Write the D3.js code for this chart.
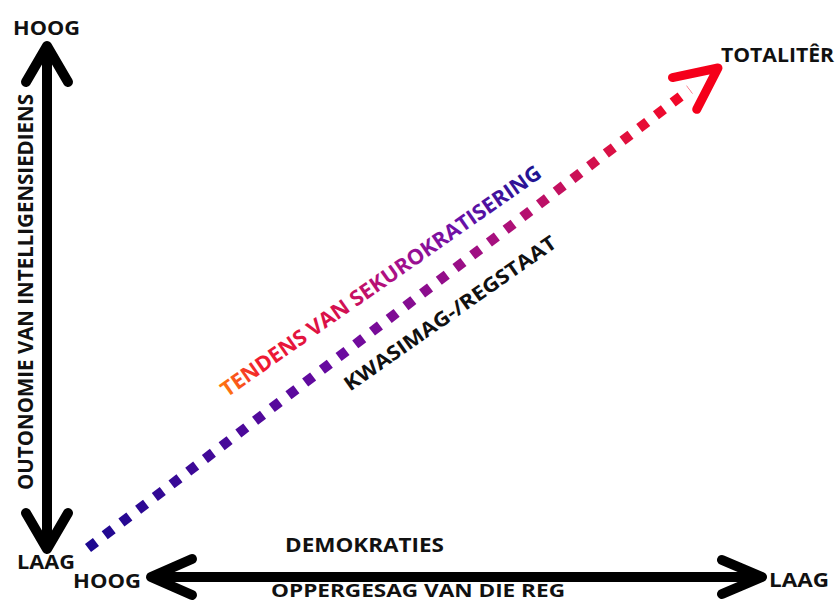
<!DOCTYPE html>
<html>
<head>
<meta charset="utf-8">
<script src="https://cdn.jsdelivr.net/npm/d3@7"></script>
<style>
  body { margin: 0; background: #fff; }
  text { font-family: "Open Sans", "DejaVu Sans", sans-serif; font-weight: bold; }
</style>
</head>
<body>
<div id="chart"></div>
<script>
// data: concept diagram, trend from (0,0) to (1,1) in normalised units
var yEnds = ["LAAG", "HOOG"];
var xEnds = ["HOOG", "LAAG"];
var yTitle = "OUTONOMIE VAN INTELLIGENSIEDIENS";
var xTitle = "OPPERGESAG VAN DIE REG";
var lowerLabel = "DEMOKRATIES";
var endLabel = "TOTALITÊR";
var trendLabels = ["TENDENS VAN SEKUROKRATISERING", "KWASIMAG-/REGSTAAT"];
var trendX = [0, 0.955];
var trendY = [0, 0.955];
var tipPoint = [1, 1];

var svgWidth = 838;
var svgHeight = 602;

var svg = d3.select("#chart")
  .append("svg")
  .attr("width", svgWidth)
  .attr("height", svgHeight);

var xScale = d3.scaleLinear().domain([0, 1]).range([88, 718]);
var yScale = d3.scaleLinear().domain([0, 1]).range([548, 68]);

var defs = svg.append("defs");

// gradient along trend line
var lineGrad = defs.append("linearGradient")
  .attr("id", "lineGrad")
  .attr("gradientUnits", "userSpaceOnUse")
  .attr("x1", xScale(0)).attr("y1", yScale(0))
  .attr("x2", xScale(1)).attr("y2", yScale(1));
[["0%", "#1c0890"], ["40%", "#6a0aa0"], ["65%", "#a8107e"], ["85%", "#e0103e"], ["100%", "#ff0018"]]
  .forEach(function(s) { lineGrad.append("stop").attr("offset", s[0]).attr("stop-color", s[1]); });

// gradient for the tendens text (in the rotated text's own space)
var textGrad = defs.append("linearGradient")
  .attr("id", "textGrad")
  .attr("gradientUnits", "userSpaceOnUse")
  .attr("x1", -193).attr("y1", 0)
  .attr("x2", 193).attr("y2", 0);
[["0%", "#ff7a10"], ["12%", "#f01a30"], ["35%", "#d8104a"], ["55%", "#a8108a"], ["75%", "#6a10a8"], ["100%", "#1c1490"]]
  .forEach(function(s) { textGrad.append("stop").attr("offset", s[0]).attr("stop-color", s[1]); });

var line = d3.line().x(d => xScale(d[0])).y(d => yScale(d[1]));

// helper: open chevron arrow head
function chevron(tip, dir, len, half, color, width) {
  var a = Math.atan2(dir[1], dir[0]);
  var bx = tip[0] - len * Math.cos(a), by = tip[1] - len * Math.sin(a);
  var px = -Math.sin(a) * half, py = Math.cos(a) * half;
  svg.append("path")
    .attr("d", d3.line()([[bx + px, by + py], tip, [bx - px, by - py]]))
    .attr("fill", "none")
    .attr("stroke", color)
    .attr("stroke-width", width)
    .attr("stroke-linecap", "round")
    .attr("stroke-linejoin", "round");
}

// vertical axis arrow
var vx = 47, vTop = 46, vBot = 549;
svg.append("line")
  .attr("x1", vx).attr("x2", vx)
  .attr("y1", vTop + 4).attr("y2", vBot - 4)
  .attr("stroke", "#000").attr("stroke-width", 10);
chevron([vx, vTop], [0, -1], 36, 21, "#000", 10);
chevron([vx, vBot], [0, 1], 36, 21, "#000", 10);

// horizontal axis arrow
var hy = 577, hLeft = 151, hRight = 762;
svg.append("line")
  .attr("x1", hLeft + 4).attr("x2", hRight - 4)
  .attr("y1", hy).attr("y2", hy)
  .attr("stroke", "#000").attr("stroke-width", 10);
chevron([hLeft, hy], [-1, 0], 41, 18, "#000", 10);
chevron([hRight, hy], [1, 0], 40, 17, "#000", 10);

// trend dotted line
svg.append("path")
  .attr("d", line([[trendX[0], trendY[0]], [trendX[1], trendY[1]]]))
  .attr("fill", "none")
  .attr("stroke", "url(#lineGrad)")
  .attr("stroke-width", 10)
  .attr("stroke-dasharray", "10,11");

// red arrow head at the end of the trend
var tip = [xScale(tipPoint[0]), yScale(tipPoint[1])];
chevron(tip, [xScale(1) - xScale(0), yScale(1) - yScale(0)], 42, 20, "#f5001a", 9);

// labels
function label(txt, x, y, size, len, color) {
  return svg.append("text")
    .attr("x", x).attr("y", y)
    .attr("font-size", size)
    .attr("fill", color || "#111")
    .attr("textLength", len)
    .attr("lengthAdjust", "spacingAndGlyphs")
    .text(txt);
}

label(yEnds[1], 13, 35, 20, 67);
label(yEnds[0], 17, 569, 19, 58);
label(xEnds[0], 73, 588, 20, 68);
label(xEnds[1], 769, 587, 20, 60);
label(lowerLabel, 285, 552, 19, 159);
label(xTitle, 271, 597, 17, 294);
label(endLabel, 721, 62, 19, 113);

svg.append("text")
  .attr("transform", "translate(33, 292) rotate(-90)")
  .attr("text-anchor", "middle")
  .attr("font-size", 22)
  .attr("fill", "#111")
  .attr("textLength", 396)
  .attr("lengthAdjust", "spacingAndGlyphs")
  .text(yTitle);

svg.append("text")
  .attr("transform", "translate(385, 287) rotate(-35)")
  .attr("text-anchor", "middle")
  .attr("font-size", 21)
  .attr("fill", "url(#textGrad)")
  .attr("textLength", 386)
  .attr("lengthAdjust", "spacingAndGlyphs")
  .text(trendLabels[0]);

svg.append("text")
  .attr("transform", "translate(454, 319) rotate(-35)")
  .attr("text-anchor", "middle")
  .attr("font-size", 20)
  .attr("fill", "#111")
  .attr("textLength", 254)
  .attr("lengthAdjust", "spacingAndGlyphs")
  .text(trendLabels[1]);
</script>
</body>
</html>
